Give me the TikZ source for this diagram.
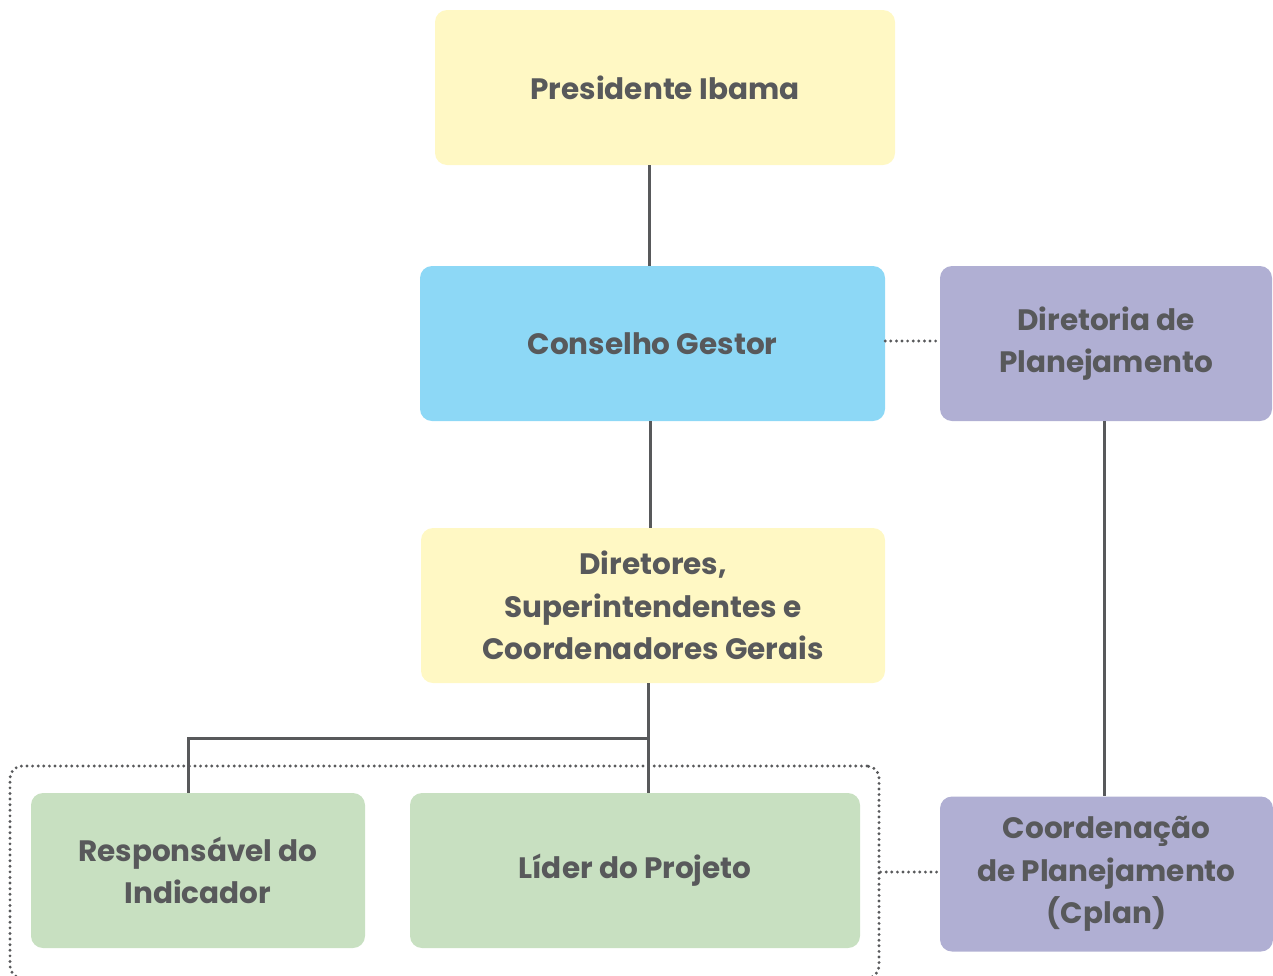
\documentclass[tikz,border=0pt]{standalone}
\usepackage{fontspec}
\setmainfont{Poppins}
\usetikzlibrary{positioning}
\definecolor{yel}{HTML}{FFF8C4}
\definecolor{blu}{HTML}{8DD8F6}
\definecolor{lav}{HTML}{B0AFD3}
\definecolor{grn}{HTML}{C8E0C1}
\definecolor{txt}{HTML}{58595B}
\definecolor{ln}{HTML}{58595B}
\tikzset{
  box/.style={rounded corners=12pt, draw=none, align=center, text=txt,
    font=\bfseries\fontsize{29.5}{42.5}\selectfont, inner sep=0pt},
  link/.style={draw=ln, line width=3pt},
  dots/.style={draw=ln, line width=3.2pt, dash pattern=on 0pt off 5.6pt, line cap=round},
}
\begin{document}
\begin{tikzpicture}[x=1pt,y=-1pt]
\useasboundingbox (0,0) rectangle (1273,975);
\clip (0,0) rectangle (1273,975);
\node[box, fill=yel, minimum width=460pt, minimum height=155pt] (pres) at (665,87.5) {Presidente Ibama};
\node[box, fill=blu, minimum width=465pt, minimum height=155pt] (cons) at (652.5,343.5) {Conselho Gestor};
\node[box, fill=lav, minimum width=332pt, minimum height=155pt] (dirp) at (1106,343.5) {Diretoria de\\Planejamento};
\node[box, fill=yel, minimum width=464pt, minimum height=155pt] (dire) at (653,605.5) {Diretores,\\Superintendentes e\\Coordenadores Gerais};
\node[box, fill=grn, minimum width=334pt, minimum height=155pt] (resp) at (198,870.5) {Responsável do\\Indicador};
\node[box, fill=grn, minimum width=450pt, minimum height=155pt] (lider) at (635,870.5) {Líder do Projeto};
\node[box, fill=lav, minimum width=333pt, minimum height=155pt] (coord) at (1106.5,874) {Coordenação\\de Planejamento\\(Cplan)};
\node[dots, rounded corners=12pt, minimum width=869pt, minimum height=212pt, inner sep=0pt] (grp) at (444.5,872) {};
\coordinate (br) at (188,738);
\draw[link] (pres.south -| 649,0) -- (cons.north -| 649,0);
\draw[link] (cons.south -| 650,0) -- (dire.north -| 650,0);
\draw[link] (dire.south -| 648,0) -- (lider.north -| 648,0);
\draw[link] (648,738) -- (br) -- (resp.north -| br);
\draw[link] (dirp.south -| 1104,0) -- (coord.north -| 1104,0);
\draw[dots] (cons.east |- 0,341) -- (dirp.west |- 0,341);
\draw[dots] (grp.east) -- (coord.west |- grp.east);
\end{tikzpicture}
\end{document}
